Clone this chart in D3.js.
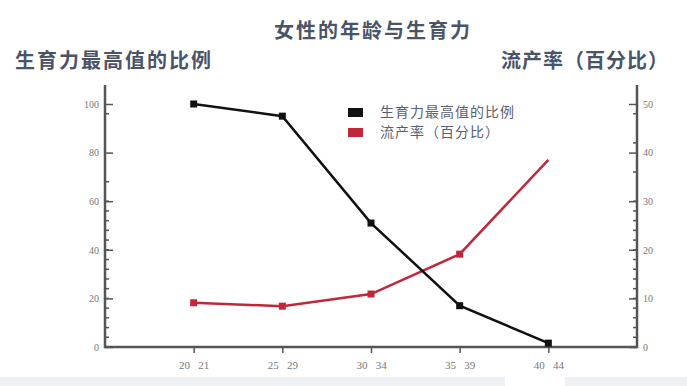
<!DOCTYPE html>
<html>
<head>
<meta charset="utf-8">
<script src="https://cdn.jsdelivr.net/npm/d3@7"></script>
<style>
body { margin: 0; background: #fff; }
.title { font-family: "Noto Sans CJK SC", sans-serif; font-weight: bold; fill: #4a5468; }
.tick text { font-family: "Liberation Serif", serif; fill: #777; }
</style>
</head>
<body>
<div id="chart"></div>
<script>
var W = 687, H = 386;
var margin = {top: 104, right: 50, bottom: 39, left: 105};

// data
var ageGroups = ["20 21", "25 29", "30 34", "35 39", "40 44"];
var fertility = [100, 95, 51, 17, 1.6];     // 生育力最高值的比例
var miscarriage = [9.1, 8.4, 10.9, 19.1, 38.5]; // 流产率（百分比）
var leftTicks = [0, 20, 40, 60, 80, 100];
var rightTicks = [0, 10, 20, 30, 40, 50];

var svg = d3.select("#chart").append("svg")
  .attr("width", W).attr("height", H);

// faint slide strip at bottom
svg.append("rect").attr("x", 0).attr("y", 377).attr("width", 505).attr("height", 9).attr("fill", "#eef1f4");
svg.append("rect").attr("x", 565).attr("y", 377).attr("width", 122).attr("height", 9).attr("fill", "#eef1f4");

var x0 = margin.left, x1 = 637, y0 = 347, y1 = margin.top;

var x = d3.scalePoint().domain(ageGroups).range([x0, x1]).padding(1);
var yL = d3.scaleLinear().domain([0, 100]).range([y0, y1]);
var yR = d3.scaleLinear().domain([0, 50]).range([y0, y1]);

var axisColor = "#555";

// minor ticks
var minorL = d3.range(0, 61, 4).concat([96, 68]);
svg.append("g").selectAll("line").data(minorL).join("line")
  .attr("x1", x0).attr("x2", x0 + 4)
  .attr("y1", d => yL(d)).attr("y2", d => yL(d))
  .attr("stroke", axisColor).attr("stroke-width", 1.5);
var minorR = d3.range(0, 31, 2).concat([36, 42, 48]);
svg.append("g").selectAll("line").data(minorR).join("line")
  .attr("x1", x1).attr("x2", x1 - 4)
  .attr("y1", d => yR(d)).attr("y2", d => yR(d))
  .attr("stroke", axisColor).attr("stroke-width", 1.5);

// left axis
var gL = svg.append("g").attr("transform", "translate(" + x0 + ",0)")
  .call(d3.axisRight(yL).tickValues(leftTicks).tickSize(8).tickFormat(d3.format("d")));
gL.select(".domain").remove();
gL.selectAll(".tick line").attr("stroke", axisColor).attr("stroke-width", 1.5);
gL.selectAll(".tick text").attr("x", -6).attr("text-anchor", "end").style("font-size", "10px");

// right axis
var gR = svg.append("g").attr("transform", "translate(" + x1 + ",0)")
  .call(d3.axisLeft(yR).tickValues(rightTicks).tickSize(8).tickFormat(d3.format("d")));
gR.select(".domain").remove();
gR.selectAll(".tick line").attr("stroke", axisColor).attr("stroke-width", 1.5);
gR.selectAll(".tick text").attr("x", 6).attr("text-anchor", "start").style("font-size", "10px");

// bottom axis
var gB = svg.append("g").attr("transform", "translate(0," + y0 + ")")
  .call(d3.axisBottom(x).tickSize(6).tickPadding(8));
gB.select(".domain").remove();
gB.selectAll(".tick line").attr("stroke", axisColor).attr("stroke-width", 1.5);
gB.selectAll(".tick text").style("font-size", "11px").attr("xml:space", "preserve")
  .text(d => d.replace(" ", "   "));

// frame: left, bottom, right
svg.append("path")
  .attr("d", "M" + x0 + ",85V" + y0 + "H" + x1 + "V85")
  .attr("fill", "none").attr("stroke", axisColor).attr("stroke-width", 2.5);

// lines
var lineL = d3.line().x((d, i) => x(ageGroups[i])).y(d => yL(d));
var lineR = d3.line().x((d, i) => x(ageGroups[i])).y(d => yR(d));

var red = "#c1273b", black = "#111";

svg.append("path").datum(miscarriage).attr("d", lineR)
  .attr("fill", "none").attr("stroke", red).attr("stroke-width", 2.5);
svg.append("g").selectAll("rect").data(miscarriage.slice(0, 4)).join("rect")
  .attr("x", (d, i) => x(ageGroups[i]) - 3.5).attr("y", d => yR(d) - 3.5)
  .attr("width", 7).attr("height", 7).attr("fill", red);

svg.append("path").datum(fertility).attr("d", lineL)
  .attr("fill", "none").attr("stroke", black).attr("stroke-width", 2.5);
svg.append("g").selectAll("rect").data(fertility).join("rect")
  .attr("x", (d, i) => x(ageGroups[i]) - 3.5).attr("y", d => yL(d) - 3.5)
  .attr("width", 7).attr("height", 7).attr("fill", black);

// legend
var legend = [{name: "生育力最高值的比例", color: black}, {name: "流产率（百分比）", color: red}];
var lg = svg.append("g").attr("transform", "translate(348,108)");
lg.selectAll("rect").data(legend).join("rect")
  .attr("x", 0).attr("y", (d, i) => i * 20).attr("width", 15).attr("height", 9)
  .attr("fill", d => d.color);
lg.selectAll("text").data(legend).join("text")
  .attr("x", 32).attr("y", (d, i) => i * 20 + 4.5).attr("dy", "0.35em")
  .style("font-family", "'Noto Sans CJK SC', sans-serif").style("font-size", "14px")
  .style("letter-spacing", "1px").attr("fill", "#5a6075")
  .text(d => d.name);

// titles
svg.append("text").attr("class", "title").attr("x", 373).attr("y", 31).attr("dy", "0.35em")
  .attr("text-anchor", "middle").style("font-size", "20px").style("letter-spacing", "2px")
  .text("女性的年龄与生育力");
svg.append("text").attr("class", "title").attr("x", 15).attr("y", 61).attr("dy", "0.35em")
  .style("font-size", "20px").style("letter-spacing", "2px")
  .text("生育力最高值的比例");
svg.append("text").attr("class", "title").attr("x", 669).attr("y", 61).attr("dy", "0.35em")
  .attr("text-anchor", "end").style("font-size", "20px").style("letter-spacing", "1px")
  .text("流产率（百分比）");
</script>
</body>
</html>
